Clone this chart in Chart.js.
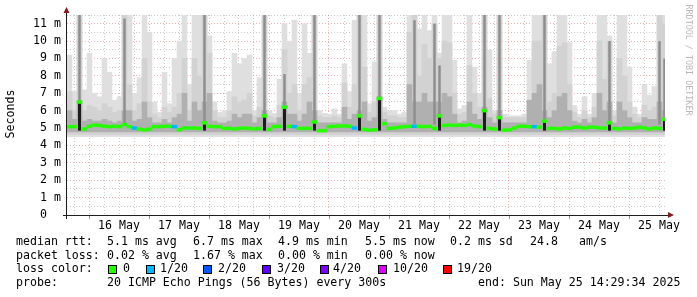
<!DOCTYPE html>
<html>
<head>
<meta charset="utf-8">
<script src="https://cdn.jsdelivr.net/npm/chart.js@4/dist/chart.umd.min.js"></script>
<style>
  html, body { margin: 0; padding: 0; background: #fff; }
  #wrap { width: 697px; height: 297px; }
</style>
</head>
<body>
<div id="wrap"><canvas id="chart" width="697" height="297"></canvas></div>
<script>
// time axis in hours from 16 May 00:00, one column = 2h of consolidated pings
const START_H = -8.8;   // 15 May 15:12
const END_H = 230.4;    // 25 May 14:29
const COL_H = 2;
const dayLabels = ['16 May', '17 May', '18 May', '19 May', '20 May', '21 May', '22 May', '23 May', '24 May', '25 May'];

// smoke tops (ms): light = highest ping, mid = upper pings, dark = near-median pings
const smokeLight = [
  9.2, 7.1, 11.5, 7.2, 9.3, 7.0, 6.8, 9.0, 8.2, 6.6,
  6.8, 11.5, 11.5, 7.0, 7.9, 11.5, 10.5, 6.5, 5.9, 8.2,
  6.4, 9.0, 10.0, 11.5, 7.5, 11.5, 11.5, 11.5, 10.3, 6.5,
  5.9, 6.0, 7.1, 9.3, 8.7, 9.0, 9.2, 6.0, 7.9, 11.5,
  6.0, 5.85, 7.8, 11.0, 10.0, 11.2, 7.0, 11.0, 9.3, 11.5,
  6.0, 5.85, 5.8, 6.1, 5.8, 8.7, 7.1, 11.2, 11.5, 11.5,
  6.4, 8.8, 11.5, 6.2, 6.0, 6.0, 5.8, 5.9, 11.5, 11.5,
  10.7, 11.5, 10.6, 11.5, 9.3, 11.5, 11.5, 8.9, 6.1, 6.3,
  11.5, 8.5, 7.0, 11.5, 9.5, 6.0, 11.5, 5.8, 5.7, 5.7,
  5.7, 5.8, 8.9, 11.5, 11.5, 11.5, 8.7, 9.4, 11.5, 11.5,
  9.9, 6.3, 5.8, 6.8, 5.8, 7.0, 11.5, 11.5, 10.3, 6.0,
  11.5, 11.5, 8.5, 6.2, 5.8, 7.5, 6.9, 7.4, 11.5, 11.5
];
const smokeMid = [
  7.1, 6.0, 11.5, 6.0, 6.3, 6.2, 6.0, 6.4, 6.2, 5.9,
  6.0, 11.5, 7.5, 6.0, 6.4, 9.0, 6.5, 5.8, 5.6, 6.2,
  5.9, 6.2, 7.0, 9.0, 6.0, 9.0, 8.0, 11.5, 9.3, 6.0,
  5.6, 5.6, 6.0, 6.8, 6.5, 6.6, 7.0, 5.7, 6.2, 11.5,
  5.7, 5.6, 6.3, 9.5, 7.0, 7.5, 6.0, 7.5, 7.9, 11.5,
  5.7, 5.6, 5.6, 5.7, 5.6, 7.6, 6.2, 7.5, 11.5, 8.5,
  5.9, 6.5, 11.5, 5.9, 5.7, 5.7, 5.6, 5.6, 10.5, 11.5,
  8.0, 9.8, 9.0, 11.0, 9.0, 10.0, 9.9, 7.0, 5.8, 5.9,
  8.6, 7.0, 6.2, 11.5, 6.7, 5.8, 11.5, 5.6, 5.6, 5.6,
  5.6, 5.6, 6.6, 10.0, 10.0, 11.5, 6.5, 7.0, 9.7, 9.9,
  7.5, 5.9, 5.6, 6.0, 5.6, 6.2, 10.0, 7.8, 10.0, 5.7,
  9.0, 8.0, 6.5, 5.8, 5.6, 6.3, 6.0, 6.2, 11.5, 11.0
];
const smokeDark = [
  6.0, 5.5, 6.5, 5.4, 5.5, 5.4, 5.4, 5.5, 5.4, 5.3,
  5.4, 6.0, 6.0, 5.4, 5.5, 6.5, 5.6, 5.3, 5.3, 5.5,
  5.3, 5.6, 5.8, 7.0, 5.4, 6.5, 6.0, 6.5, 7.0, 5.4,
  5.3, 5.3, 5.4, 5.8, 5.6, 5.8, 5.8, 5.3, 5.6, 6.0,
  5.3, 5.3, 5.6, 6.5, 5.8, 5.8, 5.4, 5.8, 6.5, 6.0,
  5.3, 5.3, 5.3, 5.3, 5.3, 6.2, 5.5, 5.8, 6.0, 6.5,
  5.4, 5.6, 6.8, 5.5, 5.3, 5.3, 5.3, 5.3, 7.5, 6.5,
  6.5, 7.0, 6.5, 6.5, 6.5, 7.0, 6.8, 5.8, 5.3, 5.4,
  6.5, 5.8, 5.5, 6.2, 5.6, 5.3, 6.0, 5.3, 5.3, 5.3,
  5.3, 5.3, 6.6, 7.0, 7.5, 6.0, 5.6, 6.0, 6.8, 7.0,
  6.0, 5.4, 5.3, 5.5, 5.3, 5.6, 7.0, 6.0, 6.5, 5.3,
  6.5, 6.0, 5.6, 5.3, 5.3, 5.6, 5.5, 5.5, 6.5, 6.0
];
// narrow dark smoke columns where most pings were slow
const spikeCols = [2, 11, 27, 39, 43, 49, 58, 62, 69, 73, 74, 83, 86, 95, 108, 118, 119];
const spikeTops = [11.5, 11.3, 11.5, 11.5, 8.1, 11.5, 11.5, 11.5, 11.2, 11.0, 8.6, 11.5, 11.5, 11.5, 10.0, 10.0, 9.0];

// median rtt per column (ms)
const medianRtt = [
  5.08, 5.08, 6.5, 4.94, 5.1, 5.17, 5.15, 5.1, 5.08, 5.1,
  5.08, 5.2, 5.08, 5.0, 4.94, 4.89, 4.94, 5.08, 5.08, 5.1,
  5.1, 5.08, 4.9, 5.0, 5.0, 5.0, 4.98, 5.3, 5.1, 5.08,
  5.08, 4.98, 4.98, 4.95, 4.98, 5.0, 4.98, 4.95, 4.98, 5.7,
  4.92, 5.08, 5.1, 6.2, 5.1, 5.08, 4.98, 4.98, 4.98, 5.35,
  4.85, 4.85, 5.08, 5.1, 5.12, 5.12, 5.1, 5.0, 5.7, 4.92,
  4.88, 4.9, 6.7, 5.25, 4.98, 5.0, 5.05, 5.08, 5.1, 5.1,
  5.1, 5.08, 5.1, 4.98, 5.7, 5.15, 5.17, 5.15, 5.17, 5.15,
  5.2, 5.12, 5.08, 6.0, 4.98, 4.95, 5.6, 4.88, 4.9, 5.0,
  5.1, 5.1, 5.08, 5.08, 5.05, 5.4, 4.98, 4.98, 4.95, 5.0,
  4.98, 5.05, 5.05, 5.0, 5.05, 5.05, 5.0, 5.0, 5.3, 4.98,
  4.95, 5.0, 4.98, 5.0, 5.05, 5.0, 4.95, 5.0, 4.98, 5.5
];
// columns that lost 1 of 20 pings
const lossCols = [13, 21, 45, 57, 69, 93];

const lossColors = ['#26ff00', '#00b8ff', '#0059ff', '#5e00ff', '#7e00ff', '#dd00ff', '#ff0000'];
const lossLabels = ['0', '1/20', '2/20', '3/20', '4/20', '10/20', '19/20'];

const GRID_RED = 'rgba(222, 80, 80, 0.45)';
const GRID_GREY = 'rgba(140, 140, 140, 0.45)';
const MONO = '"DejaVu Sans Mono", monospace';

const colX = i => START_H + COL_H * (i + 0.5);

// tick positions every 6h, labels at noon
const xTicks = [];
for (let h = -6; h <= 228; h += 6) xTicks.push(h);
const yTicks = [];
for (let v = 0; v <= 11.5; v += 0.5) yTicks.push(v);

function floating(tops, low) {
  return tops.map((t, i) => ({ x: colX(i), y: [low, t] }));
}

// legend + axis decorations the way rrdtool draws them
const rrdDecor = {
  id: 'rrdDecor',
  afterDraw(chart) {
    const c = chart.ctx;
    c.save();

    // axes
    c.fillStyle = '#1e1e1e';
    c.fillRect(66, 10, 1, 209);
    c.fillRect(63, 215, 606, 1);
    c.fillStyle = 'rgba(200, 90, 90, 0.8)';
    xTicks.forEach(h => {
      if (h % 24 === 0) c.fillRect(Math.round(chart.scales.x.getPixelForValue(h)), 216, 1, 3);
    });
    c.fillStyle = '#7f1f1f';
    c.beginPath();
    c.moveTo(63.5, 13); c.lineTo(69.5, 13); c.lineTo(66.5, 7); c.closePath(); c.fill();
    c.beginPath();
    c.moveTo(668, 212); c.lineTo(668, 218); c.lineTo(674, 215); c.closePath(); c.fill();

    // y title
    c.fillStyle = '#000';
    c.font = '11.6px ' + MONO;
    c.textAlign = 'center';
    c.textBaseline = 'middle';
    c.save();
    c.translate(11, 114);
    c.rotate(-Math.PI / 2);
    c.fillText('Seconds', 0, 0);
    c.restore();

    // watermark
    c.save();
    c.fillStyle = '#b8b8b8';
    c.font = '8.4px ' + MONO;
    c.translate(688, 60);
    c.rotate(Math.PI / 2);
    c.fillText('RRDTOOL / TOBI OETIKER', 0, 0);
    c.restore();

    // legend text
    c.fillStyle = '#000';
    c.font = '11.6px ' + MONO;
    c.textAlign = 'left';
    c.textBaseline = 'alphabetic';
    const put = (s, x, y) => c.fillText(s, x, y);
    put('median rtt:', 16, 245);
    put('5.1 ms avg', 107, 245);
    put('6.7 ms max', 193, 245);
    put('4.9 ms min', 278, 245);
    put('5.5 ms now', 365, 245);
    put('0.2 ms sd', 450, 245);
    put('24.8', 530, 245);
    put('am/s', 579, 245);

    put('packet loss:', 16, 258.7);
    put('0.02 % avg', 107, 258.7);
    put('1.67 % max', 193, 258.7);
    put('0.00 % min', 278, 258.7);
    put('0.00 % now', 365, 258.7);

    put('loss color:', 16, 272.4);
    const boxX = [108, 146, 203, 262, 320, 378, 443];
    const textX = [123, 160, 218, 277, 333, 393, 457];
    lossColors.forEach((col, k) => {
      c.fillStyle = '#000';
      c.fillRect(boxX[k], 265, 9, 9);
      c.fillStyle = col;
      c.fillRect(boxX[k] + 1, 266, 7, 7);
      c.fillStyle = '#000';
      put(lossLabels[k], textX[k], 272.4);
    });

    put('probe:', 16, 286);
    put('20 ICMP Echo Pings (56 Bytes) every 300s', 107, 286);
    put('end: Sun May 25 14:29:34 2025', 478, 286);
    c.restore();
  }
};

const ctx = document.getElementById('chart').getContext('2d');
new Chart(ctx, {
  type: 'bar',
  data: {
    datasets: [
      {
        label: 'median',
        data: medianRtt.map((m, i) => ({ x: colX(i), y: [m - 0.08, m + 0.08] })),
        backgroundColor: medianRtt.map((m, i) => lossCols.includes(i) ? lossColors[1] : lossColors[0])
      },
      {
        label: 'spike',
        data: medianRtt.map((m, i) => ({ x: colX(i), y: m > 5.28 ? [4.85, m - 0.08] : null })),
        backgroundColor: '#1c1c1c',
        barPercentage: 0.6
      },
      {
        label: 'dense',
        data: spikeCols.map((k, j) => ({ x: colX(k), y: [5.2, spikeTops[j]] })),
        backgroundColor: '#8e8e8e',
        barPercentage: 0.5
      },
      { label: 'dark', data: floating(smokeDark, 4.78), backgroundColor: '#b0b0b0' },
      { label: 'mid', data: floating(smokeMid, 4.63), backgroundColor: '#d2d2d2' },
      { label: 'light', data: floating(smokeLight, 4.5), backgroundColor: '#dfdfdf' }
    ]
  },
  options: {
    responsive: false,
    animation: false,
    events: [],
    layout: { padding: { top: 15, right: 32, left: 0, bottom: 0 } },
    plugins: { legend: { display: false }, tooltip: { enabled: false } },
    datasets: {
      bar: { grouped: false, barPercentage: 1, categoryPercentage: 1, borderWidth: 0 }
    },
    scales: {
      x: {
        type: 'linear',
        min: START_H,
        max: END_H,
        offset: false,
        z: 1,
        afterFit: s => { s.height = 82; },
        afterBuildTicks: s => { s.ticks = xTicks.map(v => ({ value: v })); },
        ticks: {
          autoSkip: false,
          maxRotation: 0,
          padding: 4,
          color: '#000',
          font: { family: MONO, size: 11.6 },
          callback: v => ((v - 12) % 24 === 0 ? dayLabels[(v - 12) / 24] : '')
        },
        grid: {
          offset: false,
          drawTicks: false,
          lineWidth: 1,
          color: c => (c.tick && c.tick.value % 24 === 0 ? GRID_RED : GRID_GREY)
        },
        border: { display: false, dash: [1, 2] }
      },
      y: {
        min: 0,
        max: 11.5,
        z: 1,
        afterFit: s => { s.width = 67; },
        afterBuildTicks: s => { s.ticks = yTicks.map(v => ({ value: v })); },
        ticks: {
          autoSkip: false,
          padding: 6,
          color: '#000',
          font: { family: MONO, size: 11.6 },
          callback: v => (v % 1 !== 0 ? '' : v === 0 ? '0  ' : v + ' m')
        },
        grid: {
          drawTicks: false,
          lineWidth: 1,
          color: c => (c.tick && c.tick.value % 1 === 0 ? GRID_RED : GRID_GREY)
        },
        border: { display: false, dash: [1, 2] }
      }
    }
  },
  plugins: [rrdDecor]
});
</script>
</body>
</html>
